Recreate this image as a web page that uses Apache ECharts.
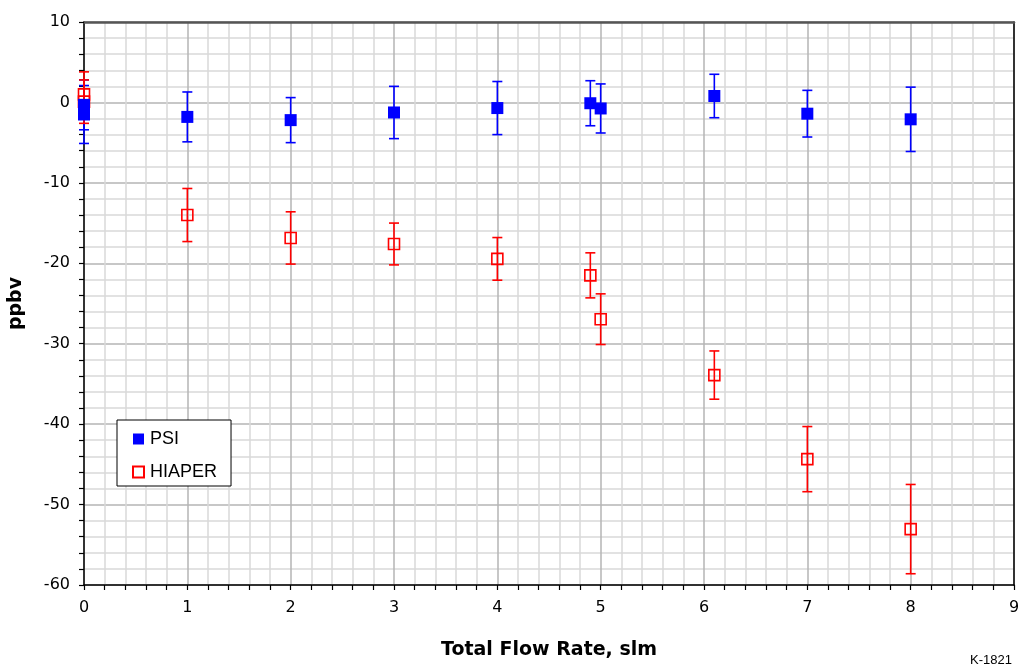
<!DOCTYPE html>
<html>
<head>
<meta charset="utf-8">
<script src="https://cdn.jsdelivr.net/npm/echarts@6/dist/echarts.min.js"></script>
<style>
html,body{margin:0;padding:0;background:#fff;overflow:hidden;}
#chart{width:1018px;height:667px;}
</style>
</head>
<body>
<div id="chart"></div>
<script>
// ---- data ----
const psiX = [0, 0, 1, 2, 3, 4, 4.9, 5, 6.1, 7, 8];
const psiY = [-0.3, -1.5, -1.8, -2.2, -1.25, -0.7, -0.1, -0.75, 0.8, -1.4, -2.1];
const psiErr = [3.1, 3.6, 3.1, 2.8, 3.25, 3.3, 2.8, 3.05, 2.7, 2.9, 4.0];

const hiaperX = [0, 0, 1, 2, 3, 4, 4.9, 5, 6.1, 7, 8];
const hiaperY = [1.0, 0.1, -14.0, -16.85, -17.6, -19.45, -21.5, -26.95, -33.9, -44.35, -53.05];
const hiaperErr = [2.8, 2.7, 3.3, 3.25, 2.6, 2.65, 2.8, 3.15, 3.0, 4.05, 5.55];

const xTickValues = [0, 1, 2, 3, 4, 5, 6, 7, 8, 9];
const yTickValues = [-60, -50, -40, -30, -20, -10, 0, 10];

const FONT = "'Liberation Sans', Arial, sans-serif";
const WIDE = "'DejaVu Sans', sans-serif";
const BLUE = '#0000FF';
const RED = '#FF0000';

const psiPts = psiX.map((x, i) => [x, psiY[i]]);
const hiaperPts = hiaperX.map((x, i) => [x, hiaperY[i]]);
const psiBars = psiX.map((x, i) => [x, psiY[i] - psiErr[i], psiY[i] + psiErr[i]]);
const hiaperBars = hiaperX.map((x, i) => [x, hiaperY[i] - hiaperErr[i], hiaperY[i] + hiaperErr[i]]);

function errRender(color) {
  return function (params, api) {
    const x = api.value(0);
    const lo = api.coord([x, api.value(1)]);
    const hi = api.coord([x, api.value(2)]);
    const hw = 5;
    const style = { stroke: color, lineWidth: 1.6 };
    return {
      type: 'group',
      children: [
        { type: 'line', shape: { x1: lo[0], y1: lo[1], x2: hi[0], y2: hi[1] }, style: style },
        { type: 'line', shape: { x1: lo[0] - hw, y1: lo[1], x2: lo[0] + hw, y2: lo[1] }, style: style },
        { type: 'line', shape: { x1: hi[0] - hw, y1: hi[1], x2: hi[0] + hw, y2: hi[1] }, style: style }
      ]
    };
  };
}

const chart = echarts.init(document.getElementById('chart'), null, { renderer: 'canvas' });

const option = {
  animation: false,
  backgroundColor: '#fff',
  grid: { left: 84, right: 4, top: 22, bottom: 82, containLabel: false, outerBoundsMode: 'none' },
  xAxis: [{
    type: 'value', min: 0, max: 9, interval: 1,
    name: 'Total Flow Rate, slm', nameLocation: 'middle', nameGap: 56,
    nameTextStyle: { fontFamily: WIDE, fontWeight: 'bold', fontSize: 19, color: '#000' },
    axisLine: { show: true, onZero: false, lineStyle: { color: '#000', width: 1.5 } },
    axisTick: { show: true, inside: false, length: 5, lineStyle: { color: '#000', width: 1.2 } },
    minorTick: { show: true, splitNumber: 5, length: 5, lineStyle: { color: '#000', width: 1.2 } },
    axisLabel: { fontFamily: WIDE, fontSize: 16, color: '#000', margin: 15,
      formatter: v => xTickValues.includes(v) ? String(v) : '' },
    splitLine: { show: true, lineStyle: { color: '#b4b4b4', width: 1.5 } },
    minorSplitLine: { show: true, lineStyle: { color: '#d9d9d9', width: 1.5 } }
  }, {
    type: 'value', position: 'top', min: 0, max: 9,
    axisLine: { show: true, onZero: false, lineStyle: { color: '#555', width: 2.5 } },
    axisTick: { show: false }, axisLabel: { show: false }, splitLine: { show: false }
  }],
  yAxis: [{
    type: 'value', min: -60, max: 10, interval: 10,
    name: 'ppbv', nameLocation: 'middle', nameGap: 58, nameRotate: 90,
    nameTextStyle: { fontFamily: WIDE, fontWeight: 'bold', fontSize: 19, color: '#000' },
    axisLine: { show: true, onZero: false, lineStyle: { color: '#000', width: 1.5 } },
    axisTick: { show: true, inside: false, length: 5, lineStyle: { color: '#000', width: 1.2 } },
    minorTick: { show: true, splitNumber: 5, length: 5, lineStyle: { color: '#000', width: 1.2 } },
    axisLabel: { fontFamily: WIDE, fontSize: 16, color: '#000', margin: 14,
      formatter: v => yTickValues.includes(v) ? String(v) : '' },
    splitLine: { show: true, lineStyle: { color: '#b4b4b4', width: 1.5 } },
    minorSplitLine: { show: true, lineStyle: { color: '#d9d9d9', width: 1.5 } }
  }, {
    type: 'value', position: 'right', min: -60, max: 10,
    axisLine: { show: true, onZero: false, lineStyle: { color: '#000', width: 1.5 } },
    axisTick: { show: false }, axisLabel: { show: false }, splitLine: { show: false }
  }],
  legend: {
    show: true, orient: 'vertical', left: 117, top: 420,
    data: ['PSI', 'HIAPER'],
    backgroundColor: '#fff', borderColor: '#000', borderWidth: 1, borderRadius: 0,
    padding: [10, 14, 5, 15], itemGap: 15, itemWidth: 11, itemHeight: 11,
    textStyle: { fontFamily: FONT, fontSize: 18, color: '#000', padding: [0, 0, 0, 1] },
    selectedMode: false
  },
  graphic: [{
    type: 'text', right: 6, top: 654,
    style: { text: 'K-1821', font: "13px 'Liberation Sans', Arial, sans-serif", fill: '#000' }
  }],
  series: [
    {
      name: 'PSI err', type: 'custom', renderItem: errRender(BLUE), data: psiBars,
      encode: { x: 0, y: [1, 2] }, silent: true, z: 3
    },
    {
      name: 'HIAPER err', type: 'custom', renderItem: errRender(RED), data: hiaperBars,
      encode: { x: 0, y: [1, 2] }, silent: true, z: 3
    },
    {
      name: 'HIAPER', type: 'scatter', data: hiaperPts, symbol: 'rect', symbolSize: 11,
      itemStyle: { color: 'rgba(255,255,255,0)', borderColor: RED, borderWidth: 1.6, opacity: 1 },
      z: 4
    },
    {
      name: 'PSI', type: 'scatter', data: psiPts, symbol: 'rect', symbolSize: 12,
      itemStyle: { color: BLUE, opacity: 1 }, z: 5
    }
  ]
};
chart.setOption(option);
</script>
</body>
</html>
